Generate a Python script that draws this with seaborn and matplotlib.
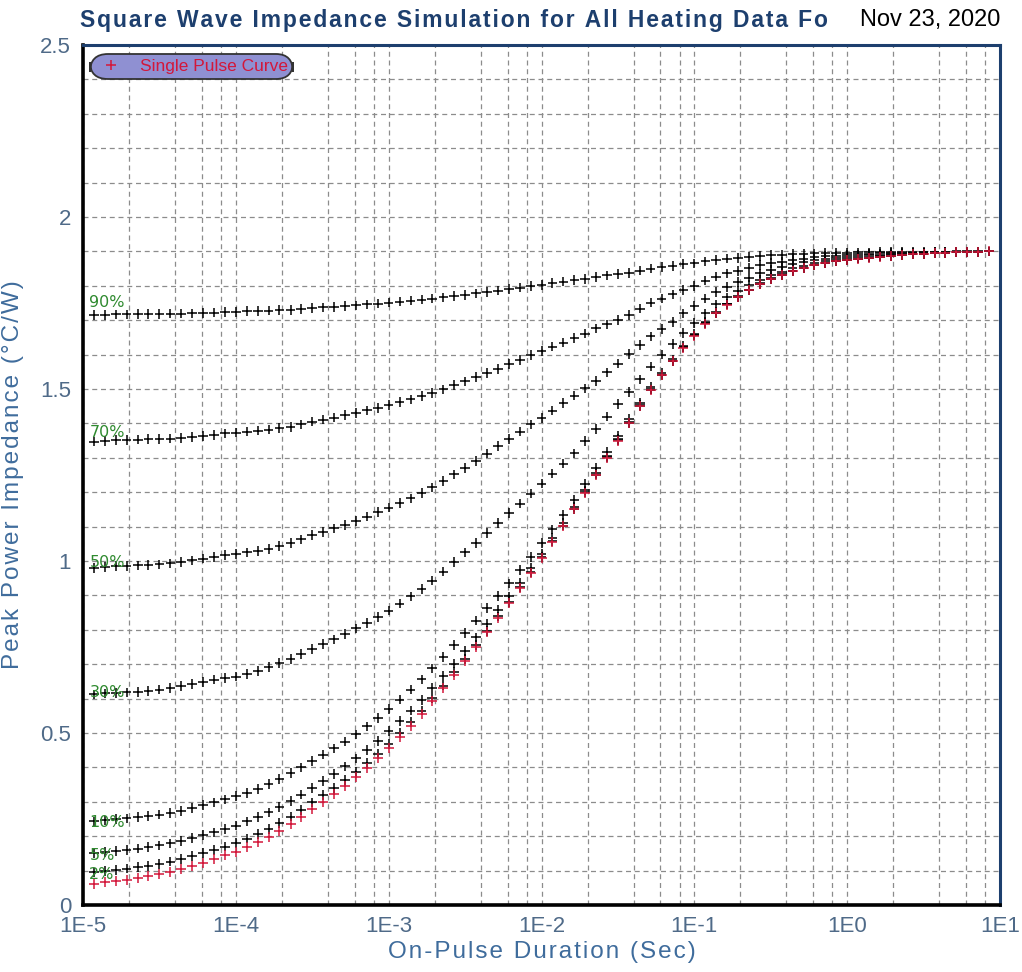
import pandas as pd
import matplotlib
matplotlib.use("Agg")
import matplotlib.pyplot as plt
from matplotlib.lines import Line2D
from matplotlib.ticker import FixedLocator, FixedFormatter, LogLocator, MultipleLocator, NullFormatter
import seaborn as sns

# on-pulse duration (s), 14 samples per decade
DURATION = [
    1.18e-5, 1.39e-5, 1.64e-5, 1.93e-5, 2.28e-5, 2.68e-5, 3.16e-5, 3.73e-5, 4.39e-5, 5.18e-5, 6.11e-5, 7.20e-5, 8.48e-5,
    1.00e-4, 1.18e-4, 1.39e-4, 1.64e-4, 1.93e-4, 2.28e-4, 2.68e-4, 3.16e-4, 3.73e-4, 4.39e-4, 5.18e-4, 6.11e-4, 7.20e-4, 8.48e-4,
    1.00e-3, 1.18e-3, 1.39e-3, 1.64e-3, 1.93e-3, 2.28e-3, 2.68e-3, 3.16e-3, 3.73e-3, 4.39e-3, 5.18e-3, 6.11e-3, 7.20e-3, 8.48e-3,
    1.00e-2, 1.18e-2, 1.39e-2, 1.64e-2, 1.93e-2, 2.28e-2, 2.68e-2, 3.16e-2, 3.73e-2, 4.39e-2, 5.18e-2, 6.11e-2, 7.20e-2, 8.48e-2,
    1.00e-1, 1.18e-1, 1.39e-1, 1.64e-1, 1.93e-1, 2.28e-1, 2.68e-1, 3.16e-1, 3.73e-1, 4.39e-1, 5.18e-1, 6.11e-1, 7.20e-1, 8.48e-1,
    1.00, 1.18, 1.39, 1.64, 1.93, 2.28, 2.68, 3.16, 3.73, 4.39, 5.18, 6.11, 7.20, 8.48,
]

SINGLE_PULSE = [
    0.062, 0.066, 0.070, 0.074, 0.078, 0.083, 0.089, 0.096, 0.104, 0.113,
    0.123, 0.133, 0.144, 0.155, 0.168, 0.182, 0.198, 0.216, 0.235, 0.256,
    0.278, 0.300, 0.322, 0.346, 0.371, 0.398, 0.426, 0.456, 0.488, 0.521,
    0.555, 0.592, 0.630, 0.670, 0.710, 0.751, 0.793, 0.835, 0.878, 0.921,
    0.965, 1.009, 1.055, 1.102, 1.150, 1.199, 1.250, 1.300, 1.350, 1.400,
    1.450, 1.497, 1.540, 1.580, 1.620, 1.655, 1.690, 1.720, 1.745, 1.767,
    1.787, 1.805, 1.820, 1.832, 1.843, 1.852, 1.860, 1.866, 1.871, 1.875,
    1.879, 1.882, 1.885, 1.887, 1.889, 1.891, 1.893, 1.895, 1.896, 1.897,
    1.898, 1.899, 1.900,
]

DUTY_90 = [
    1.716, 1.716, 1.717, 1.717, 1.718, 1.718, 1.718, 1.719, 1.719, 1.720,
    1.721, 1.722, 1.724, 1.724, 1.726, 1.727, 1.728, 1.729, 1.730, 1.732,
    1.735, 1.737, 1.739, 1.741, 1.743, 1.746, 1.748, 1.751, 1.754, 1.757,
    1.760, 1.763, 1.766, 1.770, 1.774, 1.778, 1.782, 1.786, 1.791, 1.795,
    1.800, 1.803, 1.808, 1.812, 1.816, 1.820, 1.826, 1.830, 1.834, 1.838,
    1.844, 1.850, 1.855, 1.858, 1.863, 1.865, 1.871, 1.875, 1.879, 1.881,
    1.883, 1.886, 1.889, 1.890, 1.892, 1.893, 1.894, 1.895, 1.896, 1.896,
    1.897, 1.897, 1.898, 1.898, 1.898, 1.899, 1.899, 1.899, 1.899, 1.900,
    1.900, 1.900, 1.900,
]

DUTY_70 = [
    1.347, 1.349, 1.351, 1.352, 1.353, 1.354, 1.355, 1.356, 1.357, 1.360,
    1.364, 1.367, 1.371, 1.373, 1.376, 1.379, 1.382, 1.386, 1.390, 1.397,
    1.405, 1.411, 1.417, 1.424, 1.430, 1.438, 1.445, 1.453, 1.463, 1.470,
    1.479, 1.488, 1.499, 1.511, 1.522, 1.534, 1.546, 1.559, 1.572, 1.585,
    1.598, 1.610, 1.623, 1.635, 1.648, 1.661, 1.676, 1.688, 1.701, 1.716,
    1.734, 1.751, 1.763, 1.775, 1.787, 1.799, 1.815, 1.827, 1.836, 1.843,
    1.852, 1.860, 1.866, 1.870, 1.875, 1.879, 1.883, 1.886, 1.888, 1.889,
    1.891, 1.893, 1.894, 1.895, 1.895, 1.895, 1.897, 1.898, 1.898, 1.898,
    1.898, 1.899, 1.900,
]

DUTY_50 = [
    0.980, 0.982, 0.985, 0.986, 0.987, 0.988, 0.990, 0.993, 0.997, 1.002,
    1.007, 1.012, 1.017, 1.021, 1.025, 1.029, 1.035, 1.043, 1.053, 1.063,
    1.075, 1.085, 1.095, 1.105, 1.116, 1.129, 1.142, 1.155, 1.169, 1.182,
    1.197, 1.214, 1.232, 1.252, 1.271, 1.291, 1.312, 1.334, 1.355, 1.376,
    1.397, 1.416, 1.437, 1.459, 1.481, 1.502, 1.524, 1.548, 1.574, 1.601,
    1.628, 1.653, 1.674, 1.695, 1.720, 1.741, 1.763, 1.782, 1.797, 1.811,
    1.824, 1.836, 1.846, 1.854, 1.862, 1.868, 1.874, 1.878, 1.881, 1.884,
    1.887, 1.889, 1.890, 1.891, 1.892, 1.894, 1.895, 1.896, 1.896, 1.897,
    1.898, 1.899, 1.900,
]

DUTY_30 = [
    0.612, 0.615, 0.616, 0.618, 0.619, 0.622, 0.626, 0.631, 0.637, 0.643,
    0.649, 0.655, 0.660, 0.664, 0.672, 0.681, 0.691, 0.703, 0.716, 0.730,
    0.745, 0.758, 0.772, 0.788, 0.804, 0.820, 0.837, 0.856, 0.876, 0.897,
    0.919, 0.943, 0.969, 0.997, 1.025, 1.053, 1.082, 1.111, 1.140, 1.167,
    1.196, 1.225, 1.254, 1.283, 1.313, 1.348, 1.384, 1.420, 1.456, 1.491,
    1.528, 1.565, 1.600, 1.630, 1.662, 1.691, 1.720, 1.746, 1.766, 1.785,
    1.802, 1.818, 1.831, 1.841, 1.851, 1.859, 1.866, 1.871, 1.876, 1.879,
    1.882, 1.884, 1.887, 1.889, 1.890, 1.891, 1.893, 1.895, 1.896, 1.897,
    1.898, 1.899, 1.900,
]

DUTY_10 = [
    0.243, 0.246, 0.250, 0.252, 0.256, 0.259, 0.263, 0.268, 0.274, 0.282,
    0.290, 0.298, 0.307, 0.316, 0.326, 0.338, 0.352, 0.367, 0.383, 0.400,
    0.418, 0.437, 0.455, 0.475, 0.496, 0.519, 0.543, 0.569, 0.597, 0.626,
    0.656, 0.688, 0.721, 0.756, 0.791, 0.827, 0.863, 0.898, 0.935, 0.974,
    1.011, 1.052, 1.092, 1.133, 1.177, 1.223, 1.271, 1.317, 1.364, 1.413,
    1.460, 1.506, 1.547, 1.586, 1.625, 1.660, 1.694, 1.723, 1.748, 1.769,
    1.789, 1.807, 1.822, 1.833, 1.844, 1.853, 1.861, 1.867, 1.871, 1.875,
    1.879, 1.882, 1.885, 1.887, 1.889, 1.891, 1.893, 1.895, 1.896, 1.897,
    1.898, 1.899, 1.900,
]

DUTY_5 = [
    0.151, 0.154, 0.157, 0.160, 0.164, 0.168, 0.173, 0.179, 0.186, 0.194,
    0.203, 0.211, 0.221, 0.231, 0.243, 0.255, 0.269, 0.285, 0.302, 0.321,
    0.341, 0.361, 0.381, 0.403, 0.426, 0.451, 0.477, 0.505, 0.534, 0.565,
    0.596, 0.631, 0.665, 0.702, 0.739, 0.778, 0.817, 0.857, 0.897, 0.937,
    0.979, 1.021, 1.066, 1.111, 1.157, 1.205, 1.255, 1.305, 1.354, 1.403,
    1.453, 1.499, 1.542, 1.582, 1.621, 1.656, 1.691, 1.721, 1.746, 1.768,
    1.788, 1.805, 1.820, 1.832, 1.843, 1.852, 1.860, 1.866, 1.871, 1.875,
    1.879, 1.882, 1.885, 1.887, 1.889, 1.891, 1.893, 1.895, 1.896, 1.897,
    1.898, 1.899, 1.900,
]

DUTY_2 = [
    0.095, 0.099, 0.102, 0.106, 0.110, 0.114, 0.119, 0.126, 0.133, 0.142,
    0.151, 0.160, 0.170, 0.181, 0.193, 0.206, 0.221, 0.238, 0.257, 0.277,
    0.298, 0.319, 0.340, 0.363, 0.387, 0.413, 0.440, 0.469, 0.500, 0.532,
    0.565, 0.601, 0.638, 0.677, 0.716, 0.756, 0.797, 0.839, 0.881, 0.924,
    0.967, 1.011, 1.057, 1.103, 1.151, 1.200, 1.251, 1.301, 1.351, 1.401,
    1.451, 1.498, 1.541, 1.581, 1.621, 1.656, 1.691, 1.721, 1.746, 1.768,
    1.788, 1.806, 1.820, 1.832, 1.843, 1.852, 1.860, 1.866, 1.871, 1.875,
    1.879, 1.882, 1.885, 1.887, 1.889, 1.891, 1.893, 1.895, 1.896, 1.897,
    1.898, 1.899, 1.900,
]

DUTY_LABELS = ["90%", "70%", "50%", "30%", "10%", "5%", "2%"]
DUTY_FRACTIONS = [0.90, 0.70, 0.50, 0.30, 0.10, 0.05, 0.02]
DUTY_CURVES = [DUTY_90, DUTY_70, DUTY_50, DUTY_30, DUTY_10, DUTY_5, DUTY_2]

XTICKS = [1e-5, 1e-4, 1e-3, 1e-2, 1e-1, 1e0, 1e1]
XTICK_LABELS = ["1E-5", "1E-4", "1E-3", "1E-2", "1E-1", "1E0", "1E1"]
YTICKS = [0, 0.5, 1.0, 1.5, 2.0, 2.5]
YTICK_LABELS = ["0", "0.5", "1", "1.5", "2", "2.5"]

C_RED   = "#d3173a"
C_GREEN = "#2f8a2f"
C_NAVY  = "#1d3f6e"
C_AXIS  = "#3f6c9c"
C_TICK  = "#4f6a88"
C_GRID  = "#8c8c8c"
C_LEG   = "#8f90d2"

HAIR = "\u200a"


def spaced(text, gap):
    # the original renderer draws its captions with wide letter spacing
    return gap.join(text)


sns.set_style("white")
plt.rcParams.update({
    "font.family": ["Liberation Sans", "DejaVu Sans"],
    "font.size": 12,
})

duty_df = pd.concat(
    [pd.DataFrame({"duration": DURATION, "impedance": vals, "curve": lab})
     for lab, vals in zip(DUTY_LABELS, DUTY_CURVES)],
    ignore_index=True,
)
single_df = pd.DataFrame({"duration": DURATION, "impedance": SINGLE_PULSE})

fig = plt.figure(figsize=(10.22, 9.72), dpi=100)
ax = fig.add_axes([83 / 1022, 67 / 972, 917 / 1022, 860 / 972])
ax.set_xscale("log")

sns.scatterplot(data=duty_df, x="duration", y="impedance", hue="curve",
                palette={lab: "black" for lab in DUTY_LABELS}, marker="+",
                s=48, linewidth=1.1, legend=False, ax=ax, zorder=3)
sns.scatterplot(data=single_df, x="duration", y="impedance", color=C_RED,
                marker="+", s=48, linewidth=1.1, legend=False, ax=ax, zorder=4)

# duty-cycle tags at the left edge
for lab, frac in zip(DUTY_LABELS, DUTY_FRACTIONS):
    ax.text(1.1e-5, 0.05 + 1.89 * frac, lab, color=C_GREEN, fontsize=11.5,
            family="DejaVu Sans", ha="left", va="center", zorder=5)

ax.set_xlim(1e-5, 10)
ax.set_ylim(0, 2.5)
ax.xaxis.set_major_locator(FixedLocator(XTICKS))
ax.xaxis.set_major_formatter(FixedFormatter(XTICK_LABELS))
ax.xaxis.set_minor_locator(LogLocator(base=10, subs=(2, 4, 6, 8), numticks=20))
ax.xaxis.set_minor_formatter(NullFormatter())
ax.yaxis.set_major_locator(FixedLocator(YTICKS))
ax.yaxis.set_major_formatter(FixedFormatter(YTICK_LABELS))
ax.yaxis.set_minor_locator(MultipleLocator(0.1))

ax.grid(True, which="both", color=C_GRID, linestyle=(0, (4, 3)), linewidth=0.9)
ax.set_axisbelow(True)
ax.tick_params(axis="both", which="major", direction="out", length=5, width=1.2,
               labelsize=16, labelcolor=C_TICK, color="black")
ax.tick_params(axis="both", which="minor", length=0)
ax.tick_params(axis="x", pad=3)

for side in ["left", "bottom"]:
    ax.spines[side].set_color("black")
    ax.spines[side].set_linewidth(2.6)
for side in ["top", "right"]:
    ax.spines[side].set_visible(True)
    ax.spines[side].set_color(C_NAVY)
    ax.spines[side].set_linewidth(2.2)

ax.set_xlabel(spaced("On-Pulse Duration (Sec)", HAIR), fontsize=17.5, color=C_AXIS, labelpad=3)
ax.set_ylabel(spaced("Peak Power Impedance (\u00b0C/W)", HAIR), fontsize=17.5,
              color=C_AXIS, labelpad=12)

handle = Line2D([], [], color=C_RED, marker="+", linestyle="", markersize=7, markeredgewidth=1.1)
leg = ax.legend([handle], ["Single Pulse Curve"], loc="upper left",
                bbox_to_anchor=(0.011, 0.986), borderaxespad=0, fontsize=12.5,
                labelcolor=C_RED, facecolor=C_LEG, edgecolor="#333333",
                framealpha=1, handletextpad=0.8, borderpad=0.12, handlelength=1.8)
leg.get_frame().set_linewidth(1.3)
leg.get_frame().set_boxstyle("round,pad=0.15,rounding_size=1.0")

fig.text(80 / 1022, 1 - 20 / 972,
         spaced("Square Wave Impedance Simulation for All Heating Data Fo", HAIR),
         color=C_NAVY, fontsize=16.5, fontweight="bold", ha="left", va="center", zorder=1)
fig.text(1000 / 1022, 1 - 20 / 972, "Nov 23, 2020", color="black", fontsize=17,
         ha="right", va="center", zorder=2)

fig.savefig("out.png", dpi=100, facecolor="white")
